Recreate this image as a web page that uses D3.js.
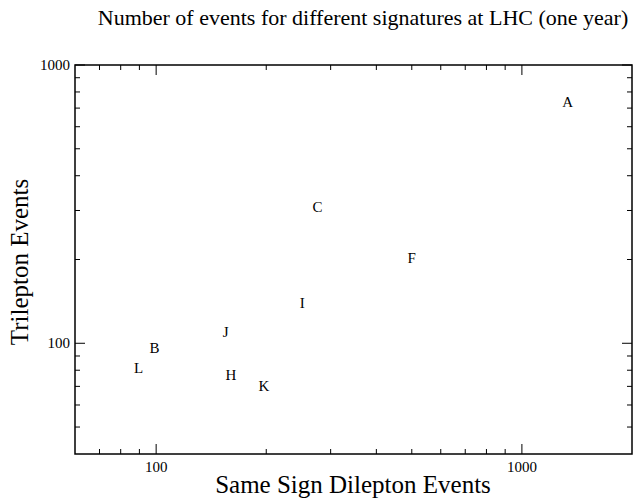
<!DOCTYPE html>
<html>
<head>
<meta charset="utf-8">
<script src="https://cdn.jsdelivr.net/npm/d3@7"></script>
<style>
  body { margin: 0; background: #fff; }
  text { font-family: "Liberation Serif", "DejaVu Serif", serif; fill: #000; }
</style>
</head>
<body>
<svg id="chart"></svg>
<script>
// Signature labels and their event counts
const signatures = ["A", "B", "C", "F", "H", "I", "J", "K", "L"];
const dileptonEvents = [1335, 99, 276, 500, 160, 251, 155, 197, 89.5];
const trileptonEvents = [736, 96.5, 309, 202, 76.6, 139, 110, 70.5, 81.8];

const xMajorTicks = [100, 1000];
const yMajorTicks = [100, 1000];
const xMinorTicks = [70, 80, 90, 200, 300, 400, 500, 600, 700, 800, 900];
const yMinorTicks = [50, 60, 70, 80, 90, 200, 300, 400, 500, 600, 700, 800, 900];

const W = 637, H = 499;
const margin = { top: 65, right: 5, bottom: 45, left: 75 };
const width = W - margin.left - margin.right;
const height = H - margin.top - margin.bottom;

const svg = d3.select("#chart").attr("width", W).attr("height", H);
const g = svg.append("g")
  .attr("transform", "translate(" + margin.left + "," + margin.top + ")");

const x = d3.scaleLog().domain([60, 2000]).range([0, width]);
const y = d3.scaleLog().domain([40, 1000]).range([height, 0]);

// frame
g.append("rect")
  .attr("width", width).attr("height", height)
  .attr("fill", "none").attr("stroke", "#000").attr("stroke-width", 1.5);

// ticks on all sides, pointing inward
function xTicks(vals, len) {
  vals.forEach(v => {
    g.append("line").attr("x1", x(v)).attr("x2", x(v))
      .attr("y1", height).attr("y2", height - len)
      .attr("stroke", "#000").attr("stroke-width", 1);
    g.append("line").attr("x1", x(v)).attr("x2", x(v))
      .attr("y1", 0).attr("y2", len)
      .attr("stroke", "#000").attr("stroke-width", 1);
  });
}
function yTicks(vals, len) {
  vals.forEach(v => {
    g.append("line").attr("x1", 0).attr("x2", len)
      .attr("y1", y(v)).attr("y2", y(v))
      .attr("stroke", "#000").attr("stroke-width", 1);
    g.append("line").attr("x1", width).attr("x2", width - len)
      .attr("y1", y(v)).attr("y2", y(v))
      .attr("stroke", "#000").attr("stroke-width", 1);
  });
}
xTicks(xMajorTicks, 10);
xTicks(xMinorTicks, 5);
yTicks(yMajorTicks, 10);
yTicks(yMinorTicks, 5);

// tick labels
g.selectAll(".xlab").data(xMajorTicks).enter().append("text")
  .attr("x", d => x(d)).attr("y", height + 18)
  .attr("text-anchor", "middle").style("font-size", "15px")
  .text(d => d);
g.selectAll(".ylab").data(yMajorTicks).enter().append("text")
  .attr("x", -5).attr("y", d => y(d) + 5)
  .attr("text-anchor", "end").style("font-size", "15px")
  .text(d => d);

// point labels
g.selectAll(".pt").data(signatures).enter().append("text")
  .attr("x", (d, i) => x(dileptonEvents[i]))
  .attr("y", (d, i) => y(trileptonEvents[i]) + 5)
  .attr("text-anchor", "middle").style("font-size", "15px")
  .text(d => d);

// axis titles
svg.append("text")
  .attr("x", 353).attr("y", 493)
  .attr("text-anchor", "middle").style("font-size", "25px")
  .text("Same Sign Dilepton Events");

svg.append("text")
  .attr("transform", "translate(28,262) rotate(-90)")
  .attr("text-anchor", "middle").style("font-size", "25px")
  .text("Trilepton Events");

// title
svg.append("text")
  .attr("x", 363).attr("y", 25)
  .attr("text-anchor", "middle").style("font-size", "22px")
  .text("Number of events for different signatures at LHC (one year)");
</script>
</body>
</html>
